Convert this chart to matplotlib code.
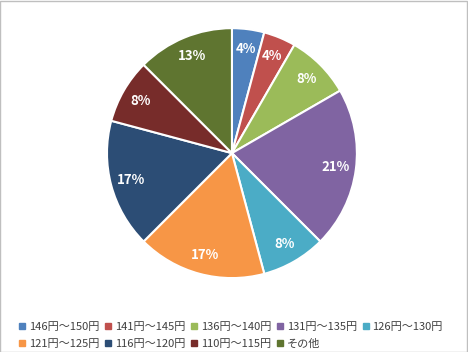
import math
import matplotlib.pyplot as plt
from matplotlib.lines import Line2D
from matplotlib.patches import Rectangle

plt.rcParams['font.family'] = ['Noto Sans CJK JP', 'DejaVu Sans']

# price ranges and counts
labels = ['146円～150円', '141円～145円', '136円～140円', '131円～135円', '126円～130円',
          '121円～125円', '116円～120円', '110円～115円', 'その他']
counts = [1, 1, 2, 5, 2, 4, 4, 2, 3]
colors = ['#4f81bd', '#c0504d', '#9bbb59', '#8064a2', '#4bacc6',
          '#f79646', '#2c4d75', '#772c2a', '#5f7530']

fig = plt.figure(figsize=(4.68, 3.52), dpi=100)
ax = fig.add_axes([0.2286, 0.21, 0.534, 0.71])


def pct(p):
    return '%d%%' % math.floor(p + 0.5)


wedges, texts, autotexts = ax.pie(counts, colors=colors, startangle=90, counterclock=False,
                                  autopct=pct, pctdistance=0.84,
                                  wedgeprops=dict(edgecolor='white', linewidth=1.5))
for t in autotexts:
    t.set_color('white')
    t.set_fontweight('bold')
    t.set_fontsize(9.5)
ax.set_xlim(-1, 1)
ax.set_ylim(-1, 1)
ax.set_aspect('equal')

# legend in row-major order
handles = [Line2D([], [], marker='s', linestyle='none', color=c, markersize=4.5) for c in colors]
order = [0, 5, 1, 6, 2, 7, 3, 8, 4]
fig.legend([handles[i] for i in order], [labels[i] for i in order], ncol=5,
           loc='lower left', bbox_to_anchor=(0.018, -0.02), frameon=False,
           fontsize=8, handlelength=0.7, handletextpad=0.25, columnspacing=0.45,
           labelspacing=0.65, labelcolor='#404040')

# chart border
fig.patches.append(Rectangle((0.001, 0.001), 0.997, 0.996, transform=fig.transFigure,
                             fill=False, edgecolor='#bfbfbf', linewidth=1))

fig.savefig('out.png', dpi=100)
